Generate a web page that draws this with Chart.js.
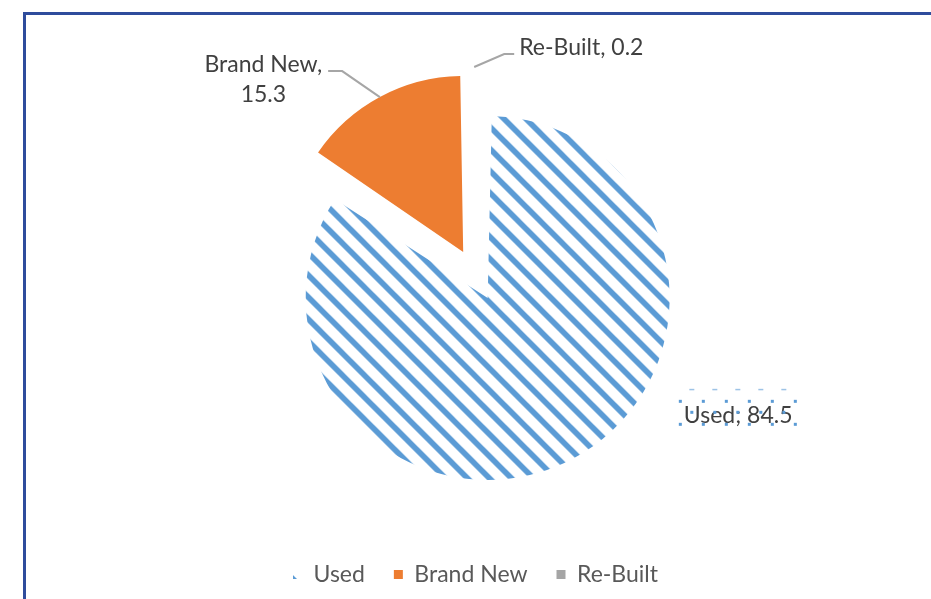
<!DOCTYPE html>
<html><head><meta charset="utf-8">
<script src="https://cdn.jsdelivr.net/npm/chart.js@4.4.1/dist/chart.umd.min.js"></script>
<style>
html,body{margin:0;padding:0;background:#fff;overflow:hidden;width:931px;height:599px;}
#wrap{position:absolute;left:0;top:0;width:931px;height:599px;}
#c{position:absolute;left:0;top:0;}
#frame{position:absolute;left:23px;top:12px;width:1000px;height:700px;border:3px solid #2F4C9C;box-sizing:border-box;pointer-events:none;}
</style></head>
<body>
<div id="wrap"><canvas id="c" width="931" height="599" style="width:931px;height:599px"></canvas><div id="frame"></div></div>
<script>
// ---- data ----
const categories = ['Used', 'Brand New', 'Re-Built'];
const shares = [84.5, 15.3, 0.2];
const labelLines = [['Used; 84.5'], ['Brand New,', '15.3'], ['Re-Built, 0.2']];

const FONT = 'Lato';
const FSIZE = 23;
const EXPLODE = 104;            // Chart.js arc offset (translation = offset/4)
const RADII = [182, 176, 182];  // drawn radius of each exploded slice

function hatch() {
  const P = 22, c = document.createElement('canvas');
  c.width = P; c.height = P;
  const g = c.getContext('2d');
  g.strokeStyle = '#5B9BD5'; g.lineWidth = 5.6;
  for (const o of [-P, 0, P]) { g.beginPath(); g.moveTo(o - 2, -2); g.lineTo(o + P + 2, P + 2); g.stroke(); }
  return g.createPattern(c, 'repeat');
}

// set the drawn radius of each exploded slice
const sliceRadius = {
  id: 'sliceRadius',
  afterDatasetsUpdate(chart) {
    const meta = chart.getDatasetMeta(0);
    meta.data.forEach((el, i) => {
      const circ = el.endAngle - el.startAngle;
      const fix = 1 - Math.sin(Math.min(Math.PI, circ));
      el.outerRadius = RADII[i] - (EXPLODE / 4) * fix;
    });
  }
};

// label placement relative to the slice's outer mid point
const labelPlace = [
  {leader: null, text: [111, -36], align: 'left', lh: 30},
  {leader: [[-37.7, -26], [-51.7, -26]], text: [-116.5, -25.3], align: 'center', lh: 30},
  {leader: [[30, -13], [40, -13]], text: [45, -12], align: 'left', lh: 30}
];

const pieLabels = {
  id: 'pieLabels',
  afterDatasetsDraw(chart) {
    const ctx = chart.ctx;
    const meta = chart.getDatasetMeta(0);
    const t = EXPLODE / 4;
    ctx.save();
    meta.data.forEach((el, i) => {
      const mid = (el.startAngle + el.endAngle) / 2;
      const vx = el.x + Math.cos(mid) * t, vy = el.y + Math.sin(mid) * t;
      const ax = vx + Math.cos(mid) * RADII[i], ay = vy + Math.sin(mid) * RADII[i];
      const p = labelPlace[i];
      if (p.leader) {
        ctx.strokeStyle = '#A6A6A6'; ctx.lineWidth = 2;
        ctx.beginPath(); ctx.moveTo(ax, ay);
        p.leader.forEach(q => ctx.lineTo(ax + q[0], ay + q[1]));
        ctx.stroke();
      }
      ctx.fillStyle = '#404040';
      ctx.font = FSIZE + 'px ' + FONT;
      ctx.textAlign = p.align; ctx.textBaseline = 'alphabetic';
      labelLines[i].forEach((s, k) => ctx.fillText(s, ax + p.text[0], ay + p.text[1] + k * p.lh));
      if (i === 0) {
        // selection marks around the Used label
        const x0 = ax + p.text[0] - 4, y0 = ay + p.text[1];
        ctx.fillStyle = '#5B9BD5';
        for (let k = 0; k < 6; k++) {
          ctx.fillRect(x0 + 23 * k - 1, y0 - 23, 3, 3);
          ctx.fillRect(x0 + 23 * k - 1, y0 + 0, 3, 3);
        }
        for (let k = 0; k < 5; k++) {
          ctx.fillRect(x0 + 11.5 + 23 * k - 1, y0 - 12, 3, 3);
        }
        ctx.fillStyle = 'rgba(91,155,213,0.6)';
        for (let k = 0; k < 5; k++) ctx.fillRect(x0 + 11.5 + 23 * k - 2, y0 - 34, 5, 1.5);
      }
    });
    ctx.restore();
  }
};

const chart = new Chart(document.getElementById('c'), {
  type: 'pie',
  data: {
    labels: categories,
    datasets: [{
      data: shares,
      backgroundColor: [hatch(), '#ED7D31', '#A5A5A5'],
      borderWidth: 0,
      offset: EXPLODE
    }]
  },
  options: {
    responsive: false,
    animation: false,
    events: [],
    layout: {padding: {left: 20, right: 0, top: 16, bottom: 3}},
    plugins: {
      tooltip: {enabled: false},
      legend: {
        position: 'bottom',
        labels: {font: {family: FONT, size: FSIZE}, color: '#595959', boxWidth: 9, boxHeight: 9, padding: 29}
      }
    }
  },
  plugins: [sliceRadius, pieLabels]
});
</script>
</body></html>
